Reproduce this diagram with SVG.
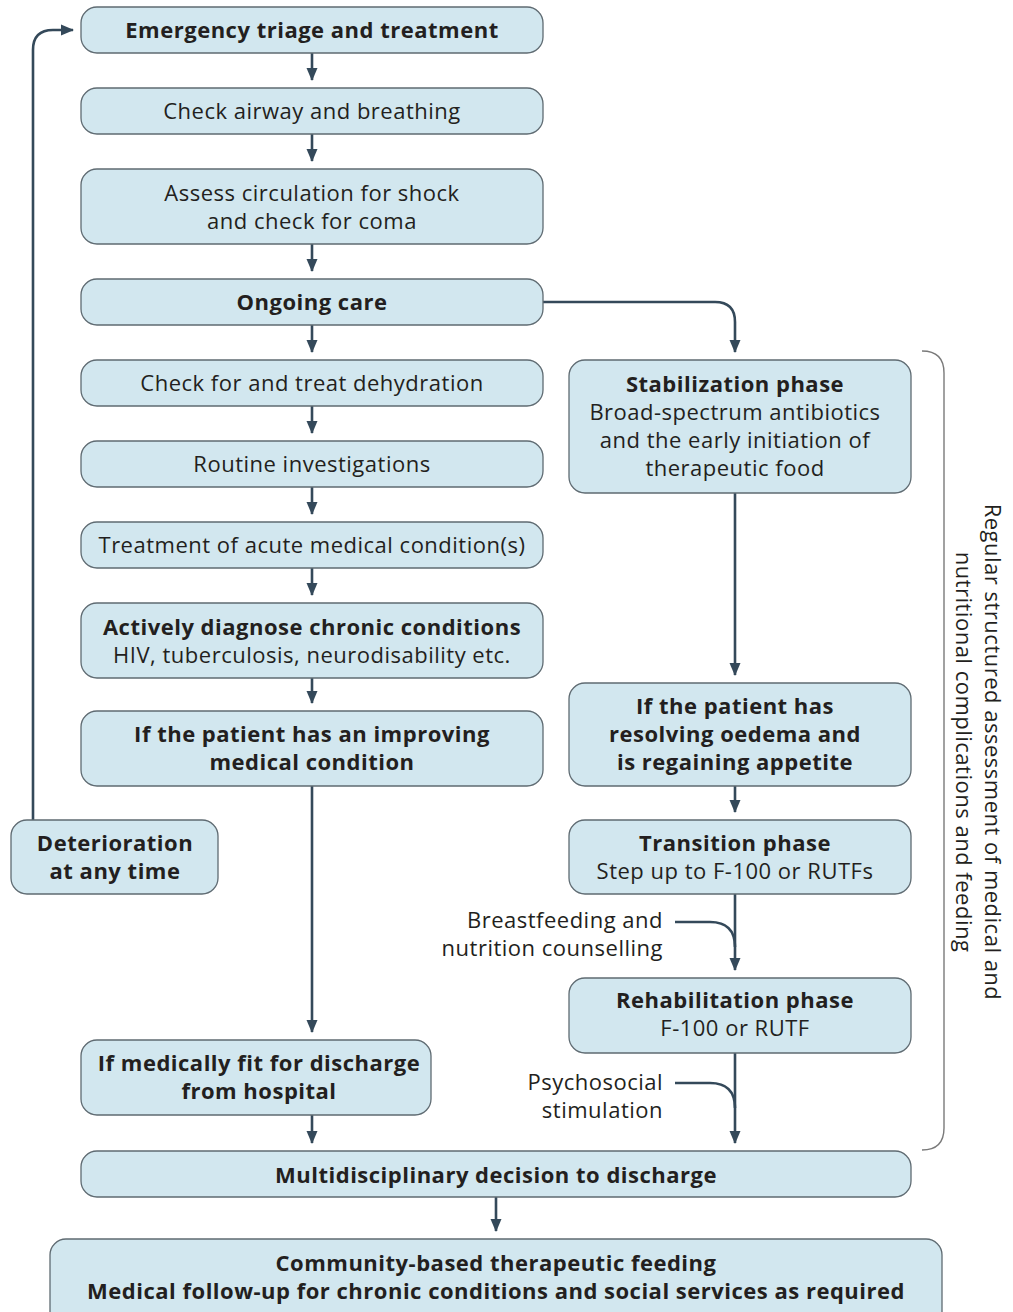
<svg xmlns="http://www.w3.org/2000/svg" width="1013" height="1312" viewBox="0 0 1013 1312">
<defs>
<style>
.box{fill:#d2e7ef;stroke:#5f6b72;stroke-width:1.3}
.t{font-family:"Open Sans",Lato,"Liberation Sans",sans-serif;font-size:22px;letter-spacing:0.5px;fill:#231f20;text-anchor:middle}
.b{font-weight:bold}
.r{text-anchor:end}
.c{fill:none;stroke:#34495a;stroke-width:2.6}
.br{fill:none;stroke:#7a7a7a;stroke-width:1.4}
</style>
<marker id="ah" markerUnits="userSpaceOnUse" markerWidth="14" markerHeight="14" viewBox="0 0 14 14" refX="12" refY="7" orient="auto">
<path d="M0,1.5 L13,7 L0,12.5 Z" fill="#34495a"/>
</marker>
</defs>
<rect width="1013" height="1312" fill="#ffffff"/>

<g id="connectors">
<path class="c" d="M312,53 V80" marker-end="url(#ah)"/>
<path class="c" d="M312,134 V161" marker-end="url(#ah)"/>
<path class="c" d="M312,244 V271" marker-end="url(#ah)"/>
<path class="c" d="M312,325 V352" marker-end="url(#ah)"/>
<path class="c" d="M312,406 V433" marker-end="url(#ah)"/>
<path class="c" d="M312,487 V514" marker-end="url(#ah)"/>
<path class="c" d="M312,568 V595" marker-end="url(#ah)"/>
<path class="c" d="M312,678 V703" marker-end="url(#ah)"/>
<path class="c" d="M312,786 V1032" marker-end="url(#ah)"/>
<path class="c" d="M312,1115 V1143" marker-end="url(#ah)"/>
<path class="c" d="M496,1197 V1231" marker-end="url(#ah)"/>
<path class="c" d="M543,302 H715 Q735,302 735,322 V352" marker-end="url(#ah)"/>
<path class="c" d="M735,493 V675" marker-end="url(#ah)"/>
<path class="c" d="M735,786 V812" marker-end="url(#ah)"/>
<path class="c" d="M735,894 V970" marker-end="url(#ah)"/>
<path class="c" d="M675,922 H710 Q735,922 735,947"/>
<path class="c" d="M735,1053 V1143" marker-end="url(#ah)"/>
<path class="c" d="M675,1083 H710 Q735,1083 735,1108"/>
<path class="c" d="M33,820 V50 Q33,30 53,30 H73" marker-end="url(#ah)"/>
</g>

<g id="bracket">
<path class="br" d="M922,351 Q944,351 944,373 V1128 Q944,1150 922,1150"/>
<text class="t" transform="translate(985,752) rotate(90)">Regular structured assessment of medical and</text>
<text class="t" transform="translate(956,752) rotate(90)">nutritional complications and feeding</text>
</g>

<g id="n1"><rect class="box" x="81" y="7" width="462" height="46" rx="16"/><text class="t b" x="312" y="38">Emergency triage and treatment</text></g>
<g id="n2"><rect class="box" x="81" y="88" width="462" height="46" rx="16"/><text class="t" x="312" y="119">Check airway and breathing</text></g>
<g id="n3"><rect class="box" x="81" y="169" width="462" height="75" rx="16"/><text class="t" x="312" y="201">Assess circulation for shock</text><text class="t" x="312" y="229">and check for coma</text></g>
<g id="n4"><rect class="box" x="81" y="279" width="462" height="46" rx="16"/><text class="t b" x="312" y="310">Ongoing care</text></g>
<g id="n5"><rect class="box" x="81" y="360" width="462" height="46" rx="16"/><text class="t" x="312" y="391">Check for and treat dehydration</text></g>
<g id="n6"><rect class="box" x="81" y="441" width="462" height="46" rx="16"/><text class="t" x="312" y="472">Routine investigations</text></g>
<g id="n7"><rect class="box" x="81" y="522" width="462" height="46" rx="16"/><text class="t" x="312" y="553">Treatment of acute medical condition(s)</text></g>
<g id="n8"><rect class="box" x="81" y="603" width="462" height="75" rx="16"/><text class="t b" x="312" y="635">Actively diagnose chronic conditions</text><text class="t" x="312" y="663">HIV, tuberculosis, neurodisability etc.</text></g>
<g id="n9"><rect class="box" x="81" y="711" width="462" height="75" rx="16"/><text class="t b" x="312" y="742">If the patient has an improving</text><text class="t b" x="312" y="770">medical condition</text></g>
<g id="n10"><rect class="box" x="11" y="820" width="207" height="74" rx="16"/><text class="t b" x="115" y="851">Deterioration</text><text class="t b" x="115" y="879">at any time</text></g>
<g id="n11"><rect class="box" x="81" y="1040" width="350" height="75" rx="16"/><text class="t b" x="259" y="1071">If medically fit for discharge</text><text class="t b" x="259" y="1099">from hospital</text></g>
<g id="n12"><rect class="box" x="569" y="360" width="342" height="133" rx="16"/><text class="t b" x="735" y="392">Stabilization phase</text><text class="t" x="735" y="420">Broad-spectrum antibiotics</text><text class="t" x="735" y="448">and the early initiation of</text><text class="t" x="735" y="476">therapeutic food</text></g>
<g id="n13"><rect class="box" x="569" y="683" width="342" height="103" rx="16"/><text class="t b" x="735" y="714">If the patient has</text><text class="t b" x="735" y="742">resolving oedema and</text><text class="t b" x="735" y="770">is regaining appetite</text></g>
<g id="n14"><rect class="box" x="569" y="820" width="342" height="74" rx="16"/><text class="t b" x="735" y="851">Transition phase</text><text class="t" x="735" y="879">Step up to F-100 or RUTFs</text></g>
<g id="n15"><rect class="box" x="569" y="978" width="342" height="75" rx="16"/><text class="t b" x="735" y="1008">Rehabilitation phase</text><text class="t" x="735" y="1036">F-100 or RUTF</text></g>
<g id="n16"><rect class="box" x="81" y="1151" width="830" height="46" rx="16"/><text class="t b" x="496" y="1183">Multidisciplinary decision to discharge</text></g>
<g id="n17"><rect class="box" x="50" y="1239" width="892" height="90" rx="16"/><text class="t b" x="496" y="1271">Community-based therapeutic feeding</text><text class="t b" x="496" y="1299">Medical follow-up for chronic conditions and social services as required</text></g>

<g id="labels">
<text class="t r" x="663" y="928">Breastfeeding and</text>
<text class="t r" x="663" y="956">nutrition counselling</text>
<text class="t r" x="663" y="1090">Psychosocial</text>
<text class="t r" x="663" y="1118">stimulation</text>
</g>
</svg>
